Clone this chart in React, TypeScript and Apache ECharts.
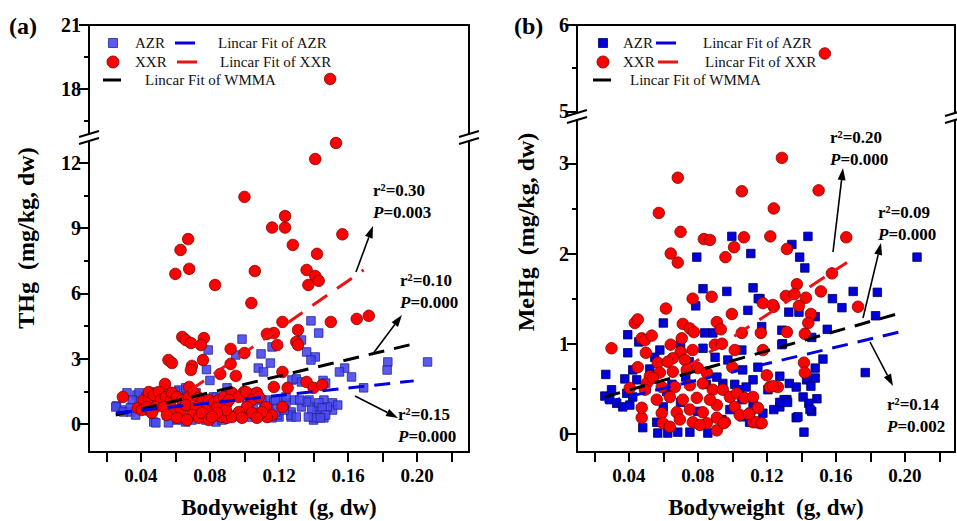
import React, { useEffect, useRef } from "react";
import * as echarts from "echarts";

// ---------- tick / label values ----------
const xTickValues = [0.02, 0.04, 0.06, 0.08, 0.1, 0.12, 0.14, 0.16, 0.18, 0.2, 0.22];
const xLabelValues = [0.04, 0.08, 0.12, 0.16, 0.2];
const aLowMajor = [0, 3, 6, 9, 12];
const aLowMinor = [1.5, 4.5, 7.5, 10.5];
const aUpMajor = [18, 21];
const aUpMinor = [16.5, 19.5];
const bLowMajor = [0, 1, 2, 3];
const bLowMinor = [0.5, 1.5, 2.5];
const bUpMajor = [5, 6];
const bUpMinor = [5.5];

// ---------- panel (a) THg ----------
const aAZR: number[][] = [
  [0.206, 2.85], [0.183, 2.85], [0.1826, 2.48], [0.162, 2.16], [0.158, 2.57], [0.155, 2.39], [0.169, 1.66],
  [0.1385, 4.74], [0.143, 4.18], [0.133, 3.86], [0.136, 3.31], [0.141, 3.08], [0.1385, 2.94],
  [0.0986, 3.9], [0.079, 3.4], [0.095, 3.17], [0.078, 2.5], [0.08, 2.0],
  [0.116, 3.54], [0.1096, 3.22], [0.115, 2.8], [0.108, 2.57], [0.111, 2.39],
  [0.1275, 2.02], [0.13, 2.07], [0.133, 1.93], [0.1455, 2.0], [0.147, 1.88],
  [0.1374, 1.1], [0.142, 0.78], [0.146, 1.1], [0.151, 0.97], [0.151, 0.64], [0.143, 0.41], [0.14, 0.18],
  [0.146, 0.28], [0.148, 0.78], [0.154, 0.87], [0.127, 0.55], [0.127, 0.32], [0.133, 0.78], [0.12, 0.32],
  [0.123, 0.78], [0.129, 1.1], [0.1125, 1.1], [0.117, 1.01], [0.121, 1.1], [0.124, 0.97], [0.127, 0.41],
  [0.136, 1.01], [0.139, 0.64], [0.141, 0.28], [0.143, 0.97], [0.145, 0.74], [0.147, 0.41], [0.144, 0.28],
  [0.137, 0.32], [0.13, 0.32], [0.119, 0.41], [0.114, 0.74], [0.123, 0.64], [0.132, 1.1],
  [0.026, 0.83], [0.029, 0.64], [0.034, 0.55], [0.037, 0.41], [0.0377, 1.33], [0.0388, 1.1], [0.0475, 0.09],
  [0.056, 0.05], [0.061, 0.18], [0.066, 0.09], [0.062, 1.56], [0.0667, 1.56], [0.072, 1.43], [0.082, 1.24],
  [0.0255, 0.78], [0.03, 0.55], [0.039, 1.43], [0.0487, 0.05], [0.0835, 0.09], [0.093, 0.41],
  [0.032, 1.43], [0.035, 1.1], [0.034, 0.74], [0.043, 1.24], [0.0475, 1.47], [0.0545, 1.56], [0.06, 1.47],
  [0.066, 1.66], [0.0696, 0.18], [0.0736, 0.32], [0.0777, 0.18], [0.0812, 0.32], [0.087, 0.18],
  [0.0968, 0.51], [0.1026, 0.32], [0.11, 1.1], [0.1113, 0.74], [0.118, 1.1], [0.118, 0.55], [0.1159, 0.28],
  [0.124, 1.24], [0.0835, 1.24], [0.0893, 1.33], [0.1014, 1.1], [0.1067, 1.43], [0.0899, 1.66],
  [0.0464, 0.74], [0.066, 0.87], [0.045, 0.6], [0.05, 0.9], [0.055, 0.4], [0.06, 0.7], [0.065, 1.0],
  [0.07, 0.5], [0.075, 0.9], [0.085, 0.7], [0.09, 1.0], [0.1, 0.6], [0.105, 0.9],
];

const aXXR: number[][] = [
  [0.153, 12.92], [0.141, 12.18], [0.1, 10.44], [0.1235, 9.56], [0.116, 9.03], [0.1235, 9.03], [0.128, 8.23],
  [0.142, 7.82], [0.1567, 8.72], [0.0674, 8.5], [0.063, 8.0],
  [0.06, 6.9], [0.068, 7.13], [0.106, 7.03], [0.136, 7.08], [0.141, 6.8], [0.137, 6.39], [0.143, 6.58],
  [0.083, 6.39], [0.104, 5.56], [0.15, 4.69], [0.165, 4.83], [0.172, 4.97], [0.122, 4.69], [0.131, 4.32],
  [0.117, 4.18], [0.113, 4.14], [0.064, 4.0], [0.066, 3.86], [0.069, 3.72], [0.0765, 3.95], [0.0748, 3.63],
  [0.119, 3.63], [0.13, 3.77], [0.131, 3.63], [0.092, 3.45], [0.1, 3.26], [0.056, 2.94], [0.058, 2.8],
  [0.076, 2.94], [0.0696, 2.67], [0.069, 2.48], [0.092, 2.76], [0.086, 2.3], [0.095, 2.21], [0.122, 2.39],
  [0.136, 1.93], [0.054, 1.84], [0.068, 1.7], [0.117, 1.7], [0.125, 1.66], [0.14, 1.66], [0.145, 1.79],
  [0.122, 0.78], [0.0296, 1.24], [0.0997, 1.47], [0.1072, 1.43],
  [0.0383, 0.74], [0.0417, 1.1], [0.0446, 1.2], [0.0446, 1.47], [0.0475, 1.33], [0.0504, 1.47], [0.0516, 1.1],
  [0.0545, 1.24], [0.0574, 1.1], [0.058, 1.43], [0.0609, 1.24], [0.0638, 1.1], [0.0678, 1.24], [0.0707, 1.43],
  [0.0736, 1.2], [0.0754, 1.01], [0.0794, 1.1], [0.0823, 0.97], [0.0852, 1.1], [0.0881, 1.24], [0.0899, 0.97],
  [0.0406, 0.64], [0.0435, 0.78], [0.0487, 0.78], [0.0533, 0.78], [0.0591, 0.51], [0.0632, 0.64], [0.0661, 0.87],
  [0.0719, 0.78], [0.0777, 0.64], [0.0812, 0.51], [0.0841, 0.74], [0.0893, 0.55], [0.0464, 0.51], [0.0551, 0.41],
  [0.0696, 0.41], [0.0736, 0.28], [0.0609, 0.28], [0.0667, 0.18], [0.0754, 0.51], [0.087, 0.32], [0.0899, 0.28],
  [0.0794, 0.18], [0.0928, 1.43], [0.0968, 1.24], [0.1009, 1.47], [0.1043, 1.1], [0.1084, 1.24], [0.1125, 0.78],
  [0.1159, 0.41], [0.113, 0.32], [0.1101, 0.55], [0.1014, 0.78], [0.0968, 0.55], [0.0928, 0.32], [0.0893, 0.64],
  [0.0841, 0.51], [0.0812, 0.32], [0.1043, 0.51], [0.1072, 0.28], [0.091, 1.1], [0.0986, 0.28],
];
const aXXRHigh: number[][] = [[0.1496, 18.47]];

const aFitAZR = [[0.0255, 0.5], [0.198, 1.98]];
const aFitXXR = [[0.068, 1.51], [0.169, 7.08]];
const aFitWMMA = [[0.0255, 0.41], [0.198, 3.68]];

// ---------- panel (b) MeHg ----------
const bAZR: number[][] = [
  [0.0997, 2.19], [0.1438, 2.19], [0.1345, 2.1], [0.0794, 1.96], [0.1107, 2.0], [0.139, 1.96], [0.207, 1.96],
  [0.083, 1.61], [0.0968, 1.58], [0.112, 1.62], [0.116, 1.5], [0.142, 1.84],
  [0.1327, 1.35], [0.1386, 1.35], [0.148, 1.3], [0.158, 1.5], [0.1635, 1.4], [0.17, 1.58], [0.184, 1.57],
  [0.183, 1.31], [0.155, 1.16], [0.146, 1.07], [0.129, 1.0], [0.1525, 0.83], [0.148, 0.73], [0.177, 0.68],
  [0.148, 0.62], [0.143, 0.6], [0.133, 0.56], [0.137, 0.52], [0.1455, 0.53], [0.141, 0.41], [0.149, 0.39],
  [0.1316, 0.38], [0.1443, 0.34], [0.1275, 0.3], [0.146, 0.25], [0.137, 0.18], [0.1415, 0.02],
  [0.109, 1.37], [0.115, 1.5], [0.1455, 1.32], [0.117, 1.19], [0.1287, 1.15], [0.1055, 0.93], [0.1287, 0.99],
  [0.0974, 0.82], [0.106, 0.71], [0.1148, 0.74], [0.1275, 0.64], [0.1206, 0.49], [0.13, 0.38], [0.1275, 0.35],
  [0.132, 0.35], [0.124, 0.27], [0.138, 0.19], [0.145, 0.27],
  [0.091, 0.63], [0.0945, 0.56], [0.1014, 0.55], [0.108, 0.52], [0.112, 0.6], [0.104, 0.49], [0.0986, 0.41],
  [0.1055, 0.38], [0.112, 0.34], [0.1177, 0.23], [0.106, 0.19], [0.11, 0.13], [0.116, 0.13], [0.0939, 0.16],
  [0.0986, 0.27],
  [0.06, 1.23], [0.0788, 1.42], [0.084, 1.12], [0.0887, 1.12], [0.0394, 1.1], [0.0394, 0.9], [0.0458, 1.02],
  [0.058, 0.93], [0.0267, 0.66], [0.0377, 0.61], [0.0261, 0.42], [0.029, 0.38], [0.033, 0.34], [0.0365, 0.3],
  [0.0406, 0.32], [0.03, 0.49], [0.0388, 0.45], [0.0423, 0.41], [0.0446, 0.6], [0.0562, 0.13], [0.0568, 0.01],
  [0.0626, 0.01], [0.0684, 0.02], [0.0754, 0.02], [0.0858, 0.01], [0.0481, 0.07], [0.0522, 0.72], [0.0423, 0.71],
  [0.05, 0.5], [0.06, 0.3], [0.065, 0.55], [0.07, 0.35], [0.075, 0.8], [0.08, 0.25], [0.085, 0.55],
  [0.09, 0.85], [0.055, 0.85], [0.07, 1.0], [0.083, 0.95], [0.073, 0.63], [0.062, 0.47],
];

const bXXR: number[][] = [
  [0.1287, 3.06], [0.0684, 2.84], [0.1055, 2.69], [0.15, 2.7], [0.0574, 2.45], [0.124, 2.5], [0.07, 2.24],
  [0.0835, 2.16], [0.087, 2.15], [0.101, 2.07], [0.1067, 2.18], [0.122, 2.19], [0.1316, 2.05], [0.166, 2.18],
  [0.0643, 2.0], [0.096, 1.96], [0.0684, 1.9],
  [0.077, 1.5], [0.088, 1.52], [0.131, 1.53], [0.1577, 1.78], [0.1374, 1.66], [0.136, 1.55], [0.1426, 1.51],
  [0.1513, 1.58], [0.1386, 1.42], [0.1455, 1.33], [0.144, 1.23], [0.1728, 1.41], [0.1316, 1.13], [0.142, 1.11],
  [0.1415, 0.79], [0.142, 0.68],
  [0.1177, 1.45], [0.124, 1.41], [0.1235, 1.43], [0.0997, 1.33], [0.091, 1.24], [0.0933, 1.16], [0.1055, 1.12],
  [0.1165, 1.12], [0.1014, 0.93], [0.1177, 0.93], [0.0899, 0.99], [0.094, 1.0], [0.1, 0.74], [0.12, 0.65],
  [0.1217, 0.52], [0.1264, 0.52],
  [0.0887, 0.49], [0.0945, 0.49], [0.0986, 0.41], [0.1026, 0.45], [0.107, 0.4], [0.1014, 0.3], [0.1043, 0.21],
  [0.11, 0.23], [0.1148, 0.29], [0.116, 0.12], [0.0957, 0.13], [0.091, 0.18], [0.112, 0.13], [0.091, 0.32],
  [0.0615, 1.39], [0.0435, 1.23], [0.0452, 1.27], [0.0713, 1.22], [0.0754, 1.17], [0.0777, 1.13], [0.0475, 1.06],
  [0.0493, 1.04], [0.0533, 1.09], [0.03, 0.95], [0.0643, 0.99], [0.0707, 1.06], [0.0499, 0.9], [0.0701, 0.91],
  [0.0725, 0.82], [0.0655, 0.84], [0.077, 0.93], [0.0452, 0.74], [0.0568, 0.79], [0.0626, 0.8], [0.0522, 0.64],
  [0.0504, 0.56],
  [0.058, 0.68], [0.0655, 0.69], [0.0736, 0.71], [0.08, 0.73], [0.0852, 0.68], [0.0591, 0.52], [0.0667, 0.52],
  [0.0754, 0.54], [0.0829, 0.56], [0.0562, 0.38], [0.0638, 0.41], [0.0713, 0.38], [0.0794, 0.4], [0.087, 0.38],
  [0.0591, 0.23], [0.0678, 0.24], [0.0754, 0.27], [0.0829, 0.24], [0.0597, 0.12], [0.0696, 0.16], [0.0771, 0.13],
  [0.0852, 0.12], [0.0638, 0.08], [0.0812, 0.1], [0.0475, 0.18], [0.0406, 0.51], [0.0493, 0.49], [0.054, 0.62],
  [0.0475, 0.29], [0.091, 0.04], [0.095, 0.12], [0.112, 0.41], [0.1096, 0.22], [0.114, 0.13], [0.117, 0.12],
  [0.1235, 0.53],
];
const bXXRHigh: number[][] = [[0.1536, 5.67]];

const bFitAZR = [[0.026, 0.35], [0.199, 1.14]];
const bFitXXR = [[0.072, 0.72], [0.1664, 1.9]];
const bFitWMMA = [[0.026, 0.41], [0.199, 1.35]];

// ---------- annotations ----------
const aStats = [
  { r2: "0.30", p: "0.003" },
  { r2: "0.10", p: "0.000" },
  { r2: "0.15", p: "0.000" },
];
const bStats = [
  { r2: "0.20", p: "0.000" },
  { r2: "0.09", p: "0.000" },
  { r2: "0.14", p: "0.002" },
];

const FONT = "'Liberation Serif', 'Times New Roman', serif";
const BLUE_A = "rgba(72,72,238,0.9)";
const BLUE_A_BORDER = "#23239a";
const BLUE_B = "#0000dd";
const BLUE_B_BORDER = "#00005a";
const RED = "#ff0000";
const RED_BORDER = "#7a0000";

function arrow(x1: number, y1: number, x2: number, y2: number) {
  const ang = Math.atan2(y2 - y1, x2 - x1);
  const L = 12;
  const W = 4;
  const bx = x2 - L * Math.cos(ang);
  const by = y2 - L * Math.sin(ang);
  const px = -Math.sin(ang) * W;
  const py = Math.cos(ang) * W;
  return [
    { type: "line", silent: true, shape: { x1, y1, x2: bx, y2: by }, style: { stroke: "#000", lineWidth: 1.6 } },
    {
      type: "polygon",
      silent: true,
      shape: { points: [[x2, y2], [bx + px, by + py], [bx - px, by - py]] },
      style: { fill: "#000" },
    },
  ];
}

function statText(x: number, y: number, s: { r2: string; p: string }) {
  const base = { fontFamily: FONT, fontWeight: "bold", fontSize: 17, fill: "#000" };
  return [
    { type: "text", silent: true, x, y, style: { ...base, text: "r²=" + s.r2, verticalAlign: "middle" } },
    {
      type: "text",
      silent: true,
      x,
      y: y + 22,
      style: {
        ...base,
        text: "{i|P}=" + s.p,
        verticalAlign: "middle",
        rich: { i: { fontFamily: FONT, fontWeight: "bold", fontStyle: "italic", fontSize: 17 } },
      },
    },
  ];
}

function breakMarks(x: number, yTop: number, yBot: number) {
  const st = { stroke: "#000", lineWidth: 2 };
  return [
    { type: "line", silent: true, shape: { x1: x - 10, y1: yTop + 3, x2: x + 10, y2: yTop - 3 }, style: st },
    { type: "line", silent: true, shape: { x1: x - 10, y1: yBot + 3, x2: x + 10, y2: yBot - 3 }, style: st },
  ];
}

function legend(x0: number, blue: string, blueBorder: string, dx: number[]) {
  const tStyle = { fontFamily: FONT, fontSize: 15, fill: "#111", verticalAlign: "middle" };
  return [
    { type: "rect", silent: true, shape: { x: x0 - 4.5, y: 38.5, width: 9, height: 9 }, style: { fill: blue, stroke: blueBorder, lineWidth: 0.8 } },
    { type: "text", silent: true, x: x0 + dx[0], y: 43, style: { ...tStyle, text: "AZR" } },
    { type: "line", silent: true, shape: { x1: x0 + dx[1], y1: 43, x2: x0 + dx[1] + 20, y2: 43 }, style: { stroke: "#0000dd", lineWidth: 3 } },
    { type: "text", silent: true, x: x0 + dx[2], y: 43, style: { ...tStyle, text: "Lincar Fit of AZR" } },
    { type: "circle", silent: true, shape: { cx: x0, cy: 62, r: 6 }, style: { fill: RED, stroke: RED_BORDER, lineWidth: 0.8 } },
    { type: "text", silent: true, x: x0 + dx[0], y: 62, style: { ...tStyle, text: "XXR" } },
    { type: "line", silent: true, shape: { x1: x0 + dx[1] + 2, y1: 62, x2: x0 + dx[1] + 22, y2: 62 }, style: { stroke: "#ee1111", lineWidth: 3 } },
    { type: "text", silent: true, x: x0 + dx[2] + 2, y: 62, style: { ...tStyle, text: "Lincar Fit of XXR" } },
    { type: "line", silent: true, shape: { x1: x0 - 10, y1: 80, x2: x0 + 8, y2: 80 }, style: { stroke: "#000", lineWidth: 3 } },
    { type: "text", silent: true, x: x0 + dx[3], y: 80, style: { ...tStyle, text: "Lincar Fit of WMMA" } },
  ];
}

const App: React.FC = () => {
  const ref = useRef<HTMLDivElement>(null);

  useEffect(() => {
    if (!ref.current) return;
    const chart = echarts.init(ref.current, undefined, { renderer: "svg" });

    const labelFont = { fontFamily: FONT, fontWeight: "bold" as const, fontSize: 19, color: "#000" };
    const axisLine = { show: true, onZero: false, lineStyle: { color: "#000", width: 2 } };

    // grids: 0 a-upper, 1 a-lower, 2 b-upper, 3 b-lower
    const gridBase = { containLabel: false, outerBoundsMode: "none" };
    const grids = [
      { ...gridBase, left: 89, top: 25, width: 380, height: 109 },
      { ...gridBase, left: 89, top: 141, width: 380, height: 311 },
      { ...gridBase, left: 577, top: 25, width: 378, height: 88 },
      { ...gridBase, left: 577, top: 120, width: 378, height: 332 },
    ];
    const xRanges = [
      [0.01, 0.23],
      [0.01, 0.23],
      [0.01, 0.229],
      [0.01, 0.229],
    ];
    const yRanges = [
      [15.89, 21],
      [-1.29, 13.01],
      [4.98, 6],
      [-0.2, 3.48],
    ];
    const majors = [aUpMajor, aLowMajor, bUpMajor, bLowMajor];
    const minors = [aUpMinor, aLowMinor, bUpMinor, bLowMinor];

    const xAxis: any[] = grids.map((_, g) => {
      const upper = g % 2 === 0;
      const base: any = {
        type: "value",
        gridIndex: g,
        min: xRanges[g][0],
        max: xRanges[g][1],
        splitLine: { show: false },
        axisLine,
      };
      if (upper) {
        return { ...base, position: "top", axisTick: { show: false }, axisLabel: { show: false } };
      }
      return {
        ...base,
        position: "bottom",
        axisTick: { show: true, length: 10, lineStyle: { width: 2, color: "#000" }, customValues: xTickValues },
        axisLabel: {
          ...labelFont,
          margin: 14,
          customValues: xLabelValues,
          formatter: (v: number) => v.toFixed(2),
        },
        name: "Bodyweight  (g, dw)",
        nameLocation: "middle",
        nameGap: 44,
        nameTextStyle: { fontFamily: FONT, fontWeight: "bold", fontSize: 23, color: "#000" },
      };
    });

    const yAxis: any[] = [];
    grids.forEach((_, g) => {
      const base = {
        type: "value",
        gridIndex: g,
        min: yRanges[g][0],
        max: yRanges[g][1],
        splitLine: { show: false },
      };
      yAxis.push({
        ...base,
        position: "left",
        axisLine,
        axisTick: { show: true, length: 10, lineStyle: { width: 2, color: "#000" }, customValues: majors[g] },
        axisLabel: { ...labelFont, fontSize: 20, margin: 8, customValues: majors[g], formatter: (v: number) => String(v) },
      });
      yAxis.push({
        ...base,
        position: "left",
        axisLine: { show: false },
        axisTick: { show: true, length: 5, lineStyle: { width: 2, color: "#000" }, customValues: minors[g] },
        axisLabel: { show: false, customValues: minors[g] },
      });
      yAxis.push({
        ...base,
        position: "right",
        axisLine,
        axisTick: { show: false },
        axisLabel: { show: false },
      });
    });

    const scatter = (data: number[][], g: number, sym: string, size: number, color: string, border: string) => ({
      type: "scatter",
      xAxisIndex: g,
      yAxisIndex: g * 3,
      data,
      symbol: sym,
      symbolSize: size,
      itemStyle: { color, borderColor: border, borderWidth: 0.8, opacity: 1 },
      z: 2,
      silent: true,
    });
    const fit = (data: number[][], g: number, color: string, dash: number[]) => ({
      type: "line",
      xAxisIndex: g,
      yAxisIndex: g * 3,
      data,
      symbol: "none",
      lineStyle: { color, width: 3, type: dash },
      z: 5,
      silent: true,
    });

    const series: any[] = [
      scatter(aAZR, 1, "rect", 8.5, BLUE_A, BLUE_A_BORDER),
      scatter(aXXR, 1, "circle", 11.5, RED, RED_BORDER),
      scatter(aXXRHigh, 0, "circle", 11.5, RED, RED_BORDER),
      fit(aFitXXR, 1, "#ee1111", [18, 12]),
      fit(aFitWMMA, 1, "#000000", [16, 10]),
      fit(aFitAZR, 1, "#0000dd", [16, 10]),
      scatter(bAZR, 3, "rect", 8.5, BLUE_B, BLUE_B_BORDER),
      scatter(bXXR, 3, "circle", 11.5, RED, RED_BORDER),
      scatter(bXXRHigh, 2, "circle", 11.5, RED, RED_BORDER),
      fit(bFitXXR, 3, "#ee1111", [18, 12]),
      fit(bFitWMMA, 3, "#000000", [16, 10]),
      fit(bFitAZR, 3, "#0000dd", [16, 10]),
    ];

    const titleStyle = { fontFamily: FONT, fontWeight: "bold", fontSize: 24, fill: "#000", verticalAlign: "middle" };
    const yNameStyle = { fontFamily: FONT, fontWeight: "bold", fontSize: 24, fill: "#000", align: "center", verticalAlign: "middle" };

    const graphic: any[] = [
      { type: "text", silent: true, x: 9, y: 26, style: { ...titleStyle, text: "(a)" } },
      { type: "text", silent: true, x: 514, y: 26, style: { ...titleStyle, text: "(b)" } },
      { type: "text", silent: true, x: 26, y: 238, rotation: Math.PI / 2, style: { ...yNameStyle, text: "THg  (mg/kg, dw)" } },
      { type: "text", silent: true, x: 526, y: 232, rotation: Math.PI / 2, style: { ...yNameStyle, text: "MeHg  (mg/kg, dw)" } },
      ...breakMarks(89, 134, 141),
      ...breakMarks(469, 134, 141),
      ...breakMarks(577, 113, 120),
      ...breakMarks(955, 113, 120),
      ...legend(113, BLUE_A, BLUE_A_BORDER, [22, 62, 105, 32]),
      ...legend(603, BLUE_B, BLUE_B_BORDER, [20, 53, 100, 27]),
      ...arrow(356, 272, 373, 226),
      ...arrow(372, 355, 402, 315),
      ...arrow(355, 396, 398, 418),
      ...arrow(833, 252, 843, 168),
      ...arrow(863, 318, 881, 243),
      ...arrow(870, 342, 893, 386),
      ...statText(373, 190, aStats[0]),
      ...statText(400, 280, aStats[1]),
      ...statText(398, 414, aStats[2]),
      ...statText(830, 137, bStats[0]),
      ...statText(878, 212, bStats[1]),
      ...statText(887, 404, bStats[2]),
    ];

    chart.setOption({
      animation: false,
      backgroundColor: "#ffffff",
      textStyle: { fontFamily: FONT },
      grid: grids,
      xAxis,
      yAxis,
      series,
      graphic,
    });

    return () => chart.dispose();
  }, []);

  return (
    <div
      ref={ref}
      style={{ position: "fixed", left: 0, top: 0, width: 957, height: 521, background: "#fff" }}
    />
  );
};

export default App;
